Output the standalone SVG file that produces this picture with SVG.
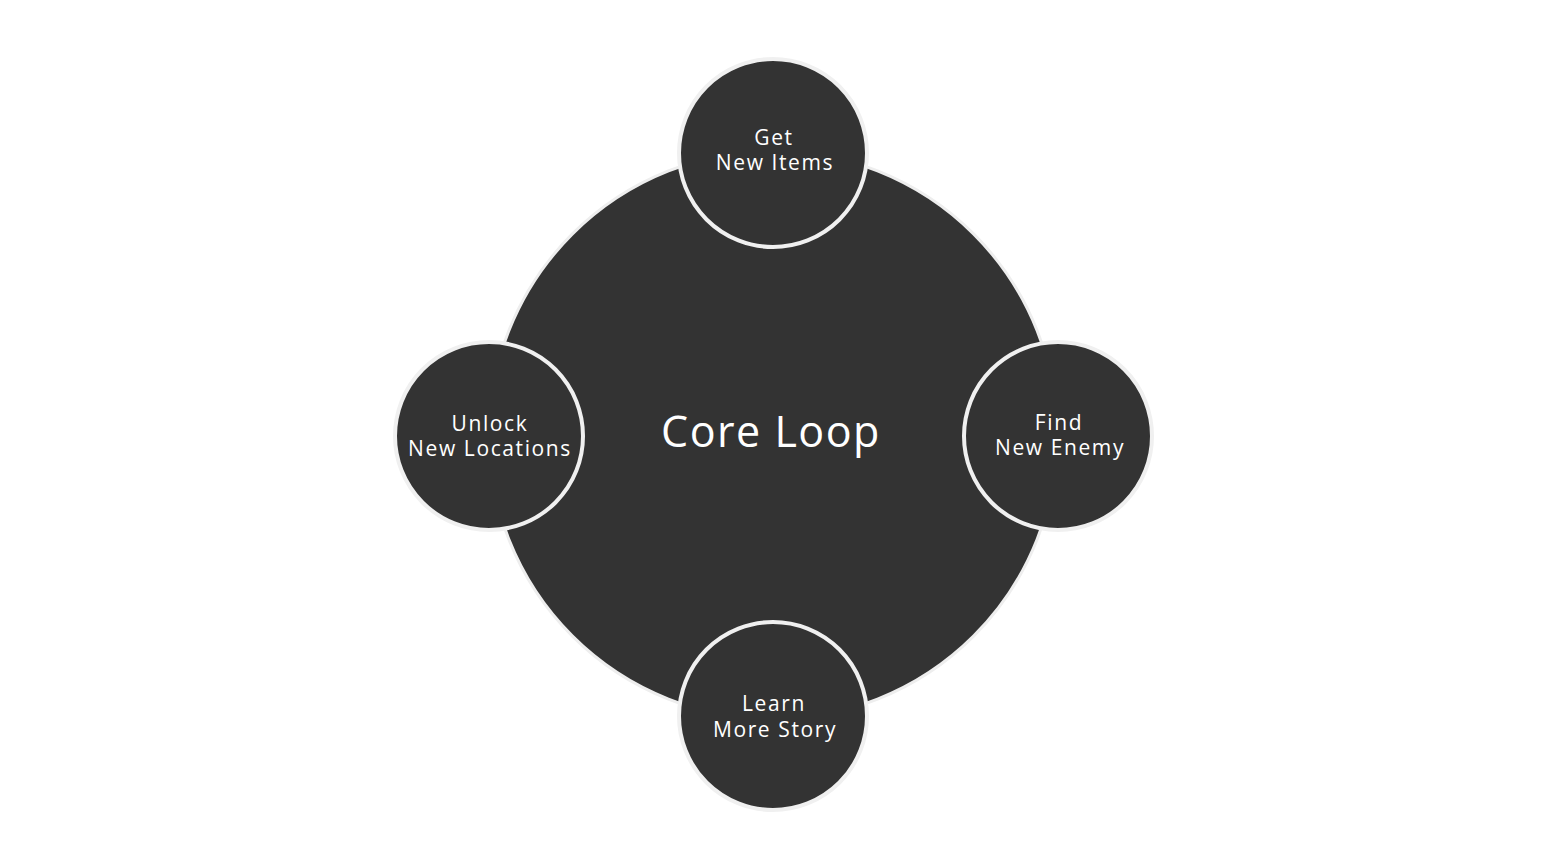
<svg xmlns="http://www.w3.org/2000/svg" width="1541" height="868" viewBox="0 0 1541 868">
  <style>
    .big { fill: #333333; stroke: #eeeeee; stroke-width: 3; }
    .node { fill: #333333; stroke: #f0f0f0; stroke-width: 4; }
    .lbl { fill: #ffffff; font-family: "Open Sans", "Liberation Sans", sans-serif; font-size: 21px; letter-spacing: 1.6px; text-anchor: middle; }
    .title { fill: #ffffff; font-family: "Open Sans", "Liberation Sans", sans-serif; font-size: 43px; letter-spacing: 1.5px; text-anchor: middle; }
  </style>
  <rect width="1541" height="868" fill="#ffffff"/>
  <g id="connectors"></g>
  <g id="core">
    <circle class="big" cx="773" cy="435" r="284"/>
    <text class="title" x="771" y="447">Core Loop</text>
  </g>
  <g id="node-items">
    <circle class="node" cx="773" cy="153" r="94"/>
    <text class="lbl" x="774" y="145">Get</text>
    <text class="lbl" x="775" y="170">New Items</text>
  </g>
  <g id="node-enemy">
    <circle class="node" cx="1058" cy="436" r="94"/>
    <text class="lbl" x="1059" y="430">Find</text>
    <text class="lbl" x="1060" y="455">New Enemy</text>
  </g>
  <g id="node-story">
    <circle class="node" cx="773" cy="716" r="94"/>
    <text class="lbl" x="774" y="711">Learn</text>
    <text class="lbl" x="775" y="737">More Story</text>
  </g>
  <g id="node-locations">
    <circle class="node" cx="489" cy="436" r="94"/>
    <text class="lbl" x="490" y="431">Unlock</text>
    <text class="lbl" x="490" y="456">New Locations</text>
  </g>
</svg>
